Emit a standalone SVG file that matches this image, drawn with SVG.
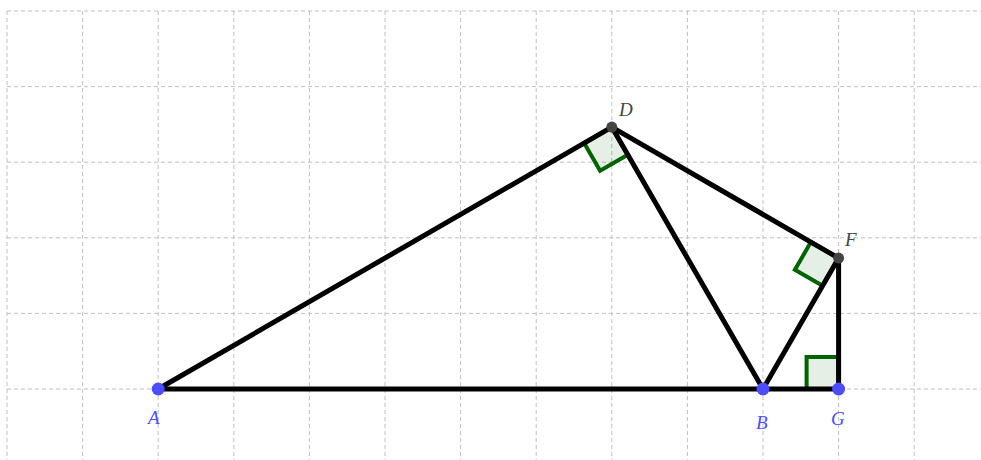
<svg xmlns="http://www.w3.org/2000/svg" width="981" height="460" viewBox="0 0 981 460">
<style>
.grid line{stroke:#c0c0c0;stroke-width:1;stroke-dasharray:4,3}
.seg{stroke:#000;stroke-width:5;stroke-linecap:round;fill:none}
.ang{fill:#006400;fill-opacity:0.1;stroke:#006400;stroke-width:4;stroke-linejoin:miter}
.lbl{font-family:"Liberation Serif",serif;font-style:italic;font-size:19px}
.blue{fill:#4d4dff}
.dark{fill:#444444}
</style>
<rect width="981" height="460" fill="#ffffff"/>
<g class="grid">
<line x1="7" y1="11" x2="7" y2="460"/>
<line x1="82.6" y1="11" x2="82.6" y2="460"/>
<line x1="158.2" y1="11" x2="158.2" y2="460"/>
<line x1="233.8" y1="11" x2="233.8" y2="460"/>
<line x1="309.4" y1="11" x2="309.4" y2="460"/>
<line x1="385" y1="11" x2="385" y2="460"/>
<line x1="460.6" y1="11" x2="460.6" y2="460"/>
<line x1="536.2" y1="11" x2="536.2" y2="460"/>
<line x1="611.8" y1="11" x2="611.8" y2="460"/>
<line x1="687.4" y1="11" x2="687.4" y2="460"/>
<line x1="763" y1="11" x2="763" y2="460"/>
<line x1="838.6" y1="11" x2="838.6" y2="460"/>
<line x1="914.2" y1="11" x2="914.2" y2="460"/>
<line x1="7" y1="11" x2="981" y2="11"/>
<line x1="7" y1="86.6" x2="981" y2="86.6"/>
<line x1="7" y1="162.2" x2="981" y2="162.2"/>
<line x1="7" y1="237.8" x2="981" y2="237.8"/>
<line x1="7" y1="313.4" x2="981" y2="313.4"/>
<line x1="7" y1="389" x2="981" y2="389"/>
</g>
<g id="angles">
<polygon class="ang" points="611.8,127.1 584.1,143.1 600.1,170.8 627.8,154.8"/>
<polygon class="ang" points="838.6,258.1 810.9,242.1 794.9,269.8 822.6,285.8"/>
<polygon class="ang" points="838.6,389 806.6,389 806.6,357 838.6,357"/>
</g>
<g id="connectors">
<line class="seg" x1="158.2" y1="389" x2="838.6" y2="389"/>
<line class="seg" x1="158.2" y1="389" x2="611.8" y2="127.1"/>
<line class="seg" x1="611.8" y1="127.1" x2="763" y2="389"/>
<line class="seg" x1="611.8" y1="127.1" x2="838.6" y2="258.1"/>
<line class="seg" x1="838.6" y1="258.1" x2="763" y2="389"/>
<line class="seg" x1="838.6" y1="258.1" x2="838.6" y2="389"/>
</g>
<g id="A"><circle class="blue" cx="158.2" cy="389" r="6.5"/><text class="lbl blue" x="148" y="424">A</text></g>
<g id="B"><circle class="blue" cx="763" cy="389" r="6.5"/><text class="lbl blue" x="756" y="429">B</text></g>
<g id="G"><circle class="blue" cx="838.6" cy="389" r="6.5"/><text class="lbl blue" x="831" y="425">G</text></g>
<g id="D"><circle class="dark" cx="611.8" cy="127.1" r="5.5"/><text class="lbl dark" x="619" y="116">D</text></g>
<g id="F"><circle class="dark" cx="838.6" cy="258.1" r="5.5"/><text class="lbl dark" x="845" y="246">F</text></g>
</svg>
